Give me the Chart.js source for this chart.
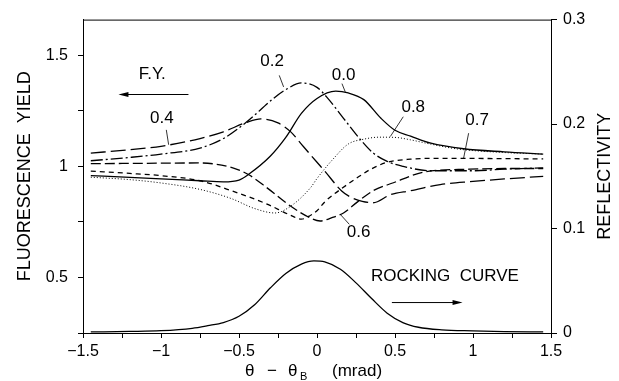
<!DOCTYPE html>
<html>
<head>
<meta charset="utf-8">
<script src="https://cdn.jsdelivr.net/npm/chart.js@4.4.1/dist/chart.umd.min.js"></script>
<style>
  html, body { margin: 0; padding: 0; background: #fff; }
  #wrap { width: 619px; height: 381px; }
</style>
</head>
<body>
<div id="wrap"><canvas id="fy" width="619" height="381"></canvas></div>
<script>
// theta - theta_B (mrad) and fluorescence yield, one pair per coherent position
const thetaP00 = [-1.45, -1.2, -1.0, -0.75, -0.6, -0.5, -0.44, -0.3, -0.2, -0.1, 0.0, 0.12, 0.2, 0.3, 0.41, 0.5, 0.6, 0.73, 0.94, 1.2, 1.45];
const yieldP00 = [0.958, 0.950, 0.943, 0.935, 0.930, 0.938, 0.963, 1.045, 1.13, 1.238, 1.305, 1.338, 1.33, 1.300, 1.216, 1.162, 1.136, 1.104, 1.079, 1.065, 1.055];

const thetaP02 = [-1.45, -1.2, -1.0, -0.75, -0.6, -0.45, -0.28, -0.2, -0.1, 0.0, 0.064, 0.17, 0.28, 0.36, 0.45, 0.55, 0.73, 1.0, 1.2, 1.45];
const yieldP02 = [1.025, 1.04, 1.055, 1.082, 1.125, 1.2, 1.305, 1.345, 1.375, 1.355, 1.31, 1.216, 1.119, 1.06, 1.022, 1.0, 0.98, 0.98, 0.987, 0.993];

const thetaP04 = [-1.45, -1.2, -1.0, -0.75, -0.6, -0.45, -0.36, -0.25, -0.17, -0.086, 0.0, 0.05, 0.16, 0.22, 0.29, 0.36, 0.47, 0.6, 0.79, 1.0, 1.2, 1.45];
const yieldP04 = [1.059, 1.075, 1.09, 1.125, 1.155, 1.198, 1.213, 1.195, 1.156, 1.088, 1.018, 0.978, 0.888, 0.86, 0.842, 0.836, 0.872, 0.89, 0.918, 0.932, 0.943, 0.955];

const thetaP06 = [-1.45, -1.2, -1.0, -0.75, -0.54, -0.44, -0.32, -0.17, -0.055, 0.02, 0.1, 0.17, 0.26, 0.36, 0.49, 0.68, 0.98, 1.2, 1.45];
const yieldP06 = [1.012, 1.013, 1.014, 1.015, 0.993, 0.963, 0.903, 0.821, 0.772, 0.754, 0.77, 0.79, 0.84, 0.89, 0.926, 0.973, 0.987, 0.99, 0.99];

const thetaP07 = [-1.45, -1.2, -1.0, -0.75, -0.54, -0.32, -0.17, -0.1, -0.04, 0.0, 0.05, 0.1, 0.15, 0.25, 0.34, 0.45, 0.6, 0.8, 1.1, 1.45];
const yieldP07 = [0.978, 0.968, 0.958, 0.935, 0.888, 0.83, 0.78, 0.762, 0.78, 0.80, 0.84, 0.87, 0.896, 0.945, 0.985, 1.018, 1.032, 1.036, 1.035, 1.033];

const thetaP08 = [-1.45, -1.2, -1.0, -0.75, -0.55, -0.4, -0.27, -0.17, -0.04, 0.0, 0.1, 0.2, 0.3, 0.4, 0.5, 0.6, 0.7, 0.9, 1.2, 1.45];
const yieldP08 = [0.951, 0.94, 0.925, 0.896, 0.855, 0.81, 0.79, 0.82, 0.905, 0.945, 1.03, 1.1, 1.122, 1.131, 1.13, 1.119, 1.104, 1.078, 1.062, 1.055];

// rocking curve, right axis
const thetaRC = [-1.45, -1.2, -1.0, -0.8, -0.7, -0.6, -0.5, -0.4, -0.3, -0.2, -0.1, -0.02, 0.05, 0.15, 0.25, 0.35, 0.45, 0.55, 0.65, 0.8, 1.0, 1.2, 1.45];
const reflRC = [0.001, 0.0015, 0.0022, 0.0045, 0.007, 0.010, 0.016, 0.027, 0.043, 0.057, 0.066, 0.069, 0.068, 0.061, 0.048, 0.033, 0.019, 0.010, 0.0055, 0.003, 0.002, 0.0013, 0.001];

const FONT = '"Liberation Sans", Arial, Helvetica, sans-serif';

const pts = (xs, ys) => xs.map((x, i) => ({ x, y: ys[i] }));
const isHalf = v => Math.abs(v * 2 - Math.round(v * 2)) < 1e-9;
const fmt = v => String(Math.round(v * 100) / 100).replace('-', '\u2212');

const curve = (data, dash, extra) => Object.assign({
  data,
  borderColor: '#000',
  borderWidth: 1.3,
  borderDash: dash,
  pointRadius: 0,
  fill: false,
  cubicInterpolationMode: 'monotone',
  yAxisID: 'y',
}, extra || {});

// text labels with leader lines, in data units of x / left y
const notes = [
  { text: '0.4', at: [-0.995, 1.217], lead: [[-0.966, 1.164], [-0.951, 1.097]] },
  { text: '0.2', at: [-0.288, 1.473], lead: [[-0.242, 1.409], [-0.214, 1.357]] },
  { text: '0.0', at: [0.171, 1.408], lead: [[0.160, 1.372], [0.181, 1.335]] },
  { text: '0.8', at: [0.617, 1.265], lead: [[0.553, 1.223], [0.470, 1.134]] },
  { text: '0.7', at: [1.026, 1.208], lead: [[0.972, 1.149], [0.940, 1.037]] },
  { text: '0.6', at: [0.267, 0.703], lead: [[0.207, 0.739], [0.149, 0.784]] },
  { text: 'F.Y.', at: [-1.056, 1.415] },
  { text: 'ROCKING  CURVE', at: [0.82, 0.503] },
];
const arrows = [
  { from: [-0.824, 1.323], to: [-1.273, 1.323] },
  { from: [0.48, 0.387], to: [0.933, 0.387] },
];

const decorations = {
  id: 'decorations',
  afterDraw(chart) {
    const { ctx, chartArea: a, scales } = chart;
    const px = v => scales.x.getPixelForValue(v);
    const py = v => scales.y.getPixelForValue(v);
    ctx.save();
    ctx.strokeStyle = '#000';
    ctx.fillStyle = '#000';

    // top frame line
    ctx.lineWidth = 1;
    ctx.beginPath();
    ctx.moveTo(a.left, a.top + 0.5);
    ctx.lineTo(a.right, a.top + 0.5);
    ctx.stroke();

    ctx.font = '17px ' + FONT;
    ctx.textAlign = 'center';
    ctx.textBaseline = 'middle';
    notes.forEach(n => {
      ctx.fillText(n.text, px(n.at[0]), py(n.at[1]));
      if (n.lead) {
        ctx.lineWidth = 0.8;
        ctx.beginPath();
        ctx.moveTo(px(n.lead[0][0]), py(n.lead[0][1]));
        ctx.lineTo(px(n.lead[1][0]), py(n.lead[1][1]));
        ctx.stroke();
      }
    });

    arrows.forEach(ar => {
      const x0 = px(ar.from[0]), y0 = py(ar.from[1]);
      const x1 = px(ar.to[0]), y1 = py(ar.to[1]);
      const dir = Math.sign(x1 - x0);
      ctx.lineWidth = 1;
      ctx.beginPath();
      ctx.moveTo(x0, y0);
      ctx.lineTo(x1 - dir * 6, y1);
      ctx.stroke();
      ctx.beginPath();
      ctx.moveTo(x1, y1);
      ctx.lineTo(x1 - dir * 10, y1 - 2.5);
      ctx.lineTo(x1 - dir * 10, y1 + 2.5);
      ctx.closePath();
      ctx.fill();
    });

    // right axis title, reading bottom to top
    const midY = (a.top + a.bottom) / 2;
    ctx.save();
    ctx.translate(605, midY);
    ctx.rotate(-Math.PI / 2);
    ctx.font = '18px ' + FONT;
    ctx.fillText('REFLECTIVITY', 0, 0);
    ctx.restore();

    // x axis title with subscript
    const cx = (a.left + a.right) / 2;
    const base = 376;
    ctx.textAlign = 'left';
    ctx.textBaseline = 'alphabetic';
    ctx.font = '17px ' + FONT;
    ctx.fillText('\u03b8', cx - 72, base);
    ctx.fillText('\u2212', cx - 50, base);
    ctx.fillText('\u03b8', cx - 29, base);
    ctx.fillText('(mrad)', cx + 15, base);
    ctx.font = '11px ' + FONT;
    ctx.fillText('B', cx - 17, base + 4);
    ctx.restore();
  }
};

new Chart(document.getElementById('fy'), {
  type: 'line',
  data: {
    datasets: [
      curve(pts(thetaP00, yieldP00), []),
      curve(pts(thetaP02, yieldP02), [12, 3, 2, 3]),
      curve(pts(thetaP04, yieldP04), [15, 5]),
      curve(pts(thetaP06, yieldP06), [10, 4]),
      curve(pts(thetaP07, yieldP07), [5, 4]),
      curve(pts(thetaP08, yieldP08), [1, 2], { borderWidth: 1 }),
      curve(pts(thetaRC, reflRC), [], { yAxisID: 'y2' }),
    ],
  },
  options: {
    responsive: false,
    animation: false,
    layout: { padding: { top: 16, left: 0, right: 0, bottom: 0 } },
    plugins: {
      legend: { display: false },
      tooltip: { enabled: false },
    },
    scales: {
      x: {
        type: 'linear',
        min: -1.5,
        max: 1.5,
        ticks: {
          stepSize: 0.25,
          autoSkip: false,
          maxRotation: 0,
          padding: 4,
          color: '#000',
          font: { family: FONT, size: 16 },
          callback: v => isHalf(v) ? fmt(v) : '',
        },
        grid: { drawOnChartArea: false, drawTicks: true, tickLength: 5, color: '#000', tickColor: '#000' },
        border: { display: true, color: '#000', width: 1 },
        afterFit(scale) { scale.height = 48; },
      },
      y: {
        position: 'left',
        min: 0.25,
        max: 1.66,
        ticks: {
          stepSize: 0.25,
          includeBounds: false,
          padding: 10,
          color: '#000',
          font: { family: FONT, size: 16 },
          callback: v => (isHalf(v) && v > 0.3) ? fmt(v) : '',
        },
        grid: { drawOnChartArea: false, drawTicks: true, tickLength: 5, color: '#000', tickColor: '#000' },
        border: { display: true, color: '#000', width: 1 },
        title: {
          display: true,
          text: 'FLUORESCENCE  YIELD',
          color: '#000',
          font: { family: FONT, size: 18 },
          padding: { top: 14, bottom: 0 },
        },
        afterFit(scale) { scale.width = 83; },
      },
      y2: {
        position: 'right',
        min: 0,
        max: 0.3,
        ticks: {
          stepSize: 0.1,
          padding: 6,
          color: '#000',
          font: { family: FONT, size: 16 },
          callback: v => fmt(v),
        },
        grid: { drawOnChartArea: false, drawTicks: true, tickLength: 6, color: '#000', tickColor: '#000' },
        border: { display: true, color: '#000', width: 1 },
        afterFit(scale) { scale.width = 68; },
      },
    },
  },
  plugins: [decorations],
});
</script>
</body>
</html>
